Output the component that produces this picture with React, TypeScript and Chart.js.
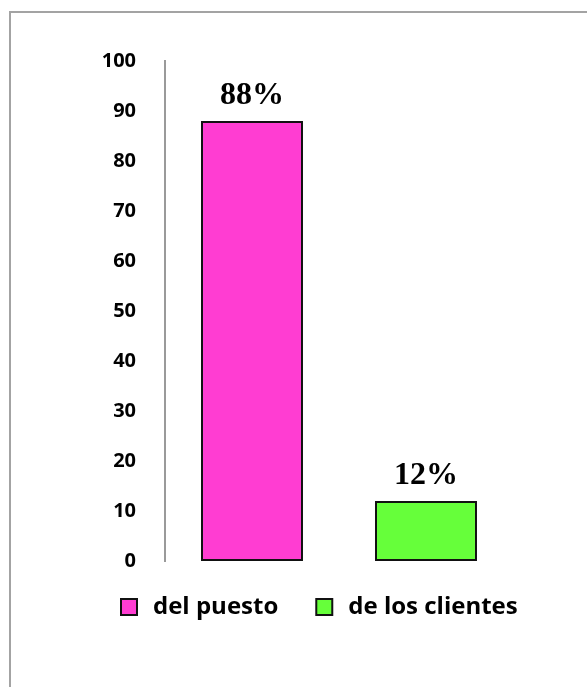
import React, { useEffect, useRef } from "react";
import { Chart, registerables } from "chart.js";

Chart.register(...registerables);

const categories: string[] = ["del puesto", "de los clientes"];
const values: number[] = [88, 12];
const barColors: string[] = ["#ff3dd2", "#66ff3a"];
const yTicks: number[] = [0, 10, 20, 30, 40, 50, 60, 70, 80, 90, 100];

const valueLabelPlugin = {
  id: "valueLabels",
  afterDatasetsDraw(chart: any) {
    const { ctx } = chart;
    const meta = chart.getDatasetMeta(0);
    ctx.save();
    ctx.font = "bold 32px 'Liberation Serif', 'Times New Roman', serif";
    ctx.fillStyle = "#000";
    ctx.textAlign = "center";
    ctx.textBaseline = "bottom";
    meta.data.forEach((el: any, i: number) => {
      ctx.fillText(`${values[i]}%`, el.x, el.y - 9);
    });
    ctx.restore();
  },
};

export default function App() {
  const canvasRef = useRef<HTMLCanvasElement | null>(null);

  useEffect(() => {
    const prevOverflow = document.body.style.overflow;
    document.body.style.overflow = "hidden";
    const canvas = canvasRef.current;
    if (!canvas) return;
    const chart = new Chart(canvas, {
      type: "bar",
      data: {
        labels: categories,
        datasets: [
          {
            label: "valores",
            data: values,
            backgroundColor: barColors,
            borderColor: "#111",
            borderWidth: 2,
            borderSkipped: false,
            categoryPercentage: 1,
            barPercentage: 0.586,
          },
        ],
      },
      options: {
        animation: false,
        responsive: true,
        maintainAspectRatio: false,
        layout: { padding: { left: 83, right: 14, top: 61, bottom: 58 } },
        scales: {
          x: { display: false },
          y: {
            min: 0,
            max: 100,
            afterFit: (scale: any) => {
              scale.width = 82;
            },
            afterBuildTicks: (scale: any) => {
              scale.ticks = yTicks.map((v) => ({ value: v }));
            },
            grid: { display: false },
            border: { display: true, color: "#9a9a9a", width: 2 },
            ticks: {
              padding: 21,
              color: "#000",
              font: { family: "'Open Sans'", size: 20, weight: "700" },
            },
          },
          yRight: {
            type: "linear",
            position: "right",
            display: true,
            min: 0,
            max: 100,
            afterFit: (scale: any) => {
              scale.width = 60;
            },
            grid: { display: false },
            border: { display: false },
            ticks: { display: false },
          },
        },
        plugins: {
          tooltip: { enabled: false },
          legend: {
            display: true,
            position: "bottom",
            align: "start",
            labels: {
              padding: 34,
              usePointStyle: true,
              boxWidth: 24,
              boxHeight: 16,
              color: "#000",
              font: { family: "'Open Sans'", size: 24, weight: "700" },
              generateLabels: () =>
                categories.map((c, i) => ({
                  text: c,
                  fillStyle: barColors[i],
                  strokeStyle: "#111",
                  lineWidth: 2,
                  pointStyle: "rect",
                  hidden: false,
                  index: i,
                  datasetIndex: 0,
                })),
            },
          },
        },
      },
      plugins: [valueLabelPlugin],
    });
    return () => {
      chart.destroy();
      document.body.style.overflow = prevOverflow;
    };
  }, []);

  return (
    <div
      style={{
        position: "fixed",
        left: 0,
        top: 0,
        width: 587,
        height: 687,
        overflow: "hidden",
        background: "#fff",
      }}
    >
      <div
        style={{
          position: "absolute",
          left: 9,
          top: 11,
          width: 700,
          height: 800,
          borderLeft: "2px solid #a3a3a3",
          borderTop: "2px solid #a3a3a3",
        }}
      />
      <div style={{ position: "absolute", left: 0, top: 0, width: 587, height: 687 }}>
        <canvas ref={canvasRef} />
      </div>
    </div>
  );
}
